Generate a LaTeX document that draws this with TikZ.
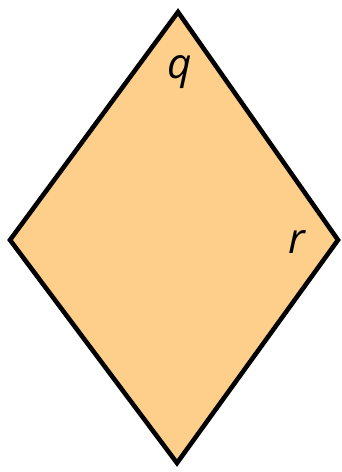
\documentclass[tikz,border=0pt]{standalone}
\usepackage{fontspec}
\setmainfont{Open Sans}
\usepackage{tikz}
\usepackage{xcolor}
\definecolor{rhfill}{HTML}{FDCF8A}
\definecolor{rhink}{HTML}{000000}
\tikzset{
  rhombusEdge/.style={draw=rhink, fill=rhfill, line width=2.6pt, line join=miter},
  angleLabel/.style={font=\fontsize{24}{26}\selectfont\itshape, inner sep=0pt}
}

\begin{document}
\begin{tikzpicture}[x=0.02cm, y=-0.02cm]
  \useasboundingbox (0,0) rectangle (341,472);
  \coordinate (top) at (178,12);
  \coordinate (right) at (338,240);
  \coordinate (bottom) at (177,463);
  \coordinate (left) at (10,240);

  \draw[rhombusEdge] (top) -- (right) -- (bottom) -- (left) -- cycle;

  \node[angleLabel] (q) at (180,72) {q};
  \node[angleLabel] (r) at (297,242) {r};
\end{tikzpicture}
\end{document}
